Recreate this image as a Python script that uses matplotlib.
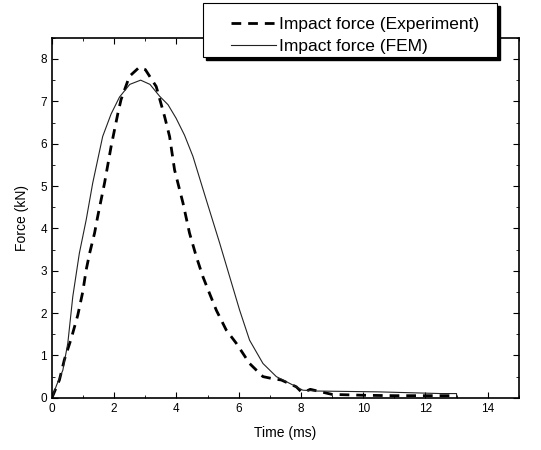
import matplotlib
matplotlib.use('Agg')
from matplotlib import pyplot as plt
from matplotlib.patches import Rectangle
from matplotlib.ticker import MultipleLocator

plt.rcParams['font.family'] = ['Liberation Sans', 'DejaVu Sans']

# experiment curve (dashed)
exp_t = [0.0, 0.24, 0.4, 0.62, 0.83, 0.99, 1.1, 1.21, 1.37, 1.47, 1.69, 1.9, 2.12,
         2.22, 2.49, 2.8, 3.0, 3.35, 3.62, 3.78, 3.94, 4.21, 4.42, 4.64, 4.85, 5.06,
         5.28, 5.6, 5.92, 6.35, 6.78, 7.1, 7.37, 7.85, 8.0, 8.12, 8.3, 9.0, 10.0,
         11.0, 12.0, 13.0]
exp_f = [0.0, 0.42, 0.9, 1.4, 1.95, 2.5, 3.02, 3.41, 3.89, 4.28, 5.07, 5.93, 6.72,
         7.04, 7.59, 7.8, 7.75, 7.35, 6.64, 6.17, 5.38, 4.6, 3.89, 3.33, 2.86, 2.47,
         2.07, 1.6, 1.29, 0.81, 0.5, 0.45, 0.42, 0.26, 0.15, 0.14, 0.2, 0.08, 0.06,
         0.05, 0.05, 0.05]

# FEM curve (thin)
fem_t = [0.0, 0.15, 0.35, 0.51, 0.67, 0.88, 1.1, 1.31, 1.63, 1.9, 2.17, 2.5, 2.85,
         3.15, 3.46, 3.73, 3.99, 4.26, 4.53, 4.96, 5.39, 5.71, 6.03, 6.35, 6.78,
         7.21, 7.64, 8.06, 8.5, 9.5, 10.5, 11.5, 12.5, 13.0, 13.0]
fem_f = [0.0, 0.3, 0.65, 1.29, 2.39, 3.41, 4.2, 5.07, 6.17, 6.7, 7.1, 7.4, 7.5,
         7.4, 7.12, 6.92, 6.6, 6.2, 5.7, 4.67, 3.65, 2.86, 2.07, 1.36, 0.81,
         0.5, 0.34, 0.18, 0.16, 0.15, 0.14, 0.12, 0.1, 0.1, 0.0]

W, H = 541, 450
fig = plt.figure(figsize=(W / 100, H / 100), dpi=100)
ax = fig.add_axes([0.096, 0.116, 0.863, 0.8])

ax.plot(exp_t, exp_f, color='black', lw=2.0, ls=(0, (3.5, 2.5)), label='Impact force (Experiment)')
ax.plot(fem_t, fem_f, color='#222222', lw=0.8, label='Impact force (FEM)')

ax.set_xlim(0, 15)
ax.set_ylim(0, 8.5)
ax.xaxis.set_major_locator(MultipleLocator(2))
ax.xaxis.set_minor_locator(MultipleLocator(1))
ax.yaxis.set_major_locator(MultipleLocator(1))
ax.yaxis.set_minor_locator(MultipleLocator(0.5))
ax.tick_params(which='both', direction='in', top=True, right=True, labelsize=8.5)
ax.tick_params(which='major', length=4)
ax.tick_params(which='minor', length=2.5)
for s in ax.spines.values():
    s.set_linewidth(1.2)

ax.set_xlabel('Time (ms)', fontsize=10, labelpad=8)
ax.set_ylabel('Force (kN)', fontsize=10, labelpad=8)

# legend box with hard black shadow, drawn by hand (wider padding left/right)
bx, by, bw, bh = 203 / W, 1 - 57 / H, 294 / W, 54 / H
fig.patches.append(Rectangle((bx + 3 / W, by - 3 / H), bw, bh, transform=fig.transFigure,
                             facecolor='black', edgecolor='black', zorder=5))
fig.patches.append(Rectangle((bx, by), bw, bh, transform=fig.transFigure,
                             facecolor='white', edgecolor='black', lw=0.8, zorder=6))
leg = fig.legend(loc='upper left', bbox_to_anchor=(222 / W, 1 - 8 / H), fontsize=12.5,
                 frameon=False, handlelength=2.6, handletextpad=0.2,
                 borderpad=0.0, labelspacing=0.4)
leg.set_zorder(7)

plt.savefig('out.png', dpi=100)
